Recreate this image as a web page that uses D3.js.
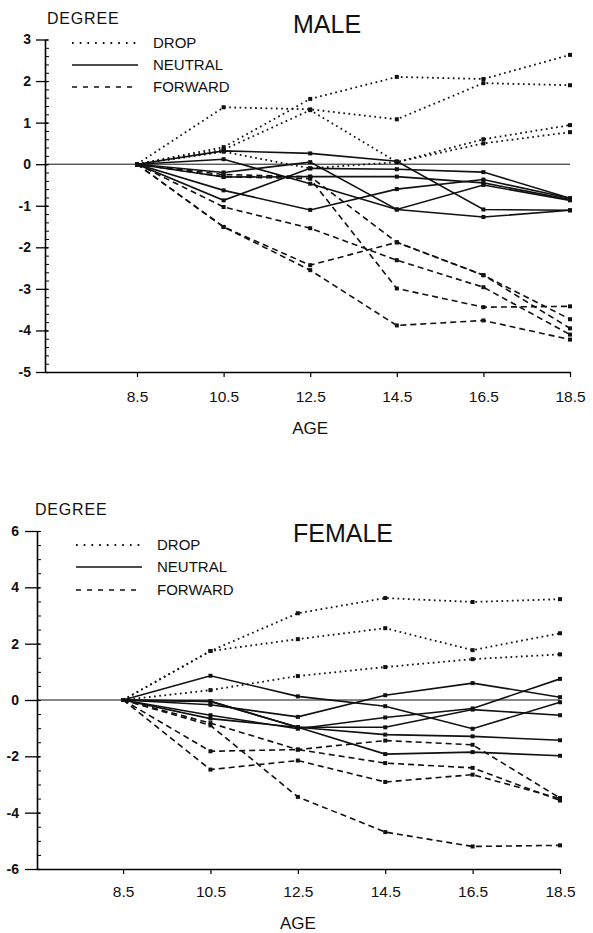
<!DOCTYPE html>
<html>
<head>
<meta charset="utf-8">
<script src="https://cdn.jsdelivr.net/npm/d3@7"></script>
<style>
  body { margin: 0; background: #fff; }
  text { font-family: "Liberation Sans", Arial, sans-serif; fill: #111; }
</style>
</head>
<body>
<script>
// ages on the x axis
const ages = [8.5, 10.5, 12.5, 14.5, 16.5, 18.5];
const legendLabels = ["DROP", "NEUTRAL", "FORWARD"];

const maleYTicks = [3, 2, 1, 0, -1, -2, -3, -4, -5];
const femaleYTicks = [6, 4, 2, 0, -2, -4, -6];

// male, one array per subject
const maleDrop = [
	[0, 1.37, 1.32, 1.08, 1.95, 1.90],
	[0, 0.41, 1.57, 2.10, 2.05, 2.63],
	[0, 0.35, 1.30, 0.05, 0.60, 0.94],
	[0, 0.30, -0.10, 0.05, 0.50, 0.77]
];
const maleNeutral = [
	[0, 0.32, 0.26, 0.07, -1.09, -1.11],
	[0, 0.12, -0.47, -1.09, -1.27, -1.11],
	[0, -0.87, -0.10, -0.12, -0.19, -0.82],
	[0, -0.63, -1.10, -0.60, -0.37, -0.82],
	[0, -0.31, -0.30, -0.30, -0.45, -0.85],
	[0, -0.20, 0.05, -1.09, -0.50, -0.87]
];
const maleForward = [
	[0, -0.25, -0.30, -1.88, -2.67, -3.73],
	[0, -0.30, -0.35, -2.99, -3.44, -3.42],
	[0, -1.03, -1.54, -2.31, -2.96, -4.10],
	[0, -1.51, -2.43, -1.88, -2.67, -3.95],
	[0, -1.51, -2.55, -3.88, -3.76, -4.22]
];

// female
const femaleDrop = [
	[0, 1.74, 3.08, 3.62, 3.48, 3.58],
	[0, 1.74, 2.16, 2.55, 1.77, 2.37],
	[0, 0.35, 0.85, 1.17, 1.45, 1.62]
];
const femaleNeutral = [
	[0, 0.86, 0.13, -0.22, -1.02, -0.08],
	[0, -0.17, -0.60, 0.17, 0.60, 0.10],
	[0, -0.54, -1.02, -0.62, -0.30, 0.75],
	[0, -0.05, -0.97, -0.97, -0.34, -0.54],
	[0, -0.66, -0.97, -1.23, -1.29, -1.43],
	[0, -0.05, -0.97, -1.92, -1.85, -1.98]
];
const femaleForward = [
	[0, -0.82, -1.76, -1.44, -1.59, -3.48],
	[0, -1.82, -1.76, -2.24, -2.41, -3.57],
	[0, -2.47, -2.15, -2.91, -2.65, -3.50],
	[0, -0.90, -3.44, -4.69, -5.20, -5.16]
];

const styles = {
	drop: { dash: "1.7,3.5", width: 1.8, legDash: "1.7,6" },
	neutral: { dash: null, width: 1.6, legDash: null },
	forward: { dash: "6,4", width: 1.6, legDash: "5,6" }
};

const svg = d3.select("body").append("svg")
	.attr("width", 593)
	.attr("height", 933);

const panel = o => {
	const g = svg.append("g");

	const x = d3.scaleLinear()
		.domain([o.xStart, 18.5])
		.range([o.axisX, o.xEnd]);

	const y = d3.scaleLinear()
		.domain([o.yTicks[o.yTicks.length - 1], o.yTicks[0]])
		.range([o.axisY, o.yTop]);

	// minor ticks inside the axis
	const yMinor = d3.axisRight(y)
		.tickValues(d3.range(y.domain()[0], y.domain()[1] + 1e-6, o.minorStep))
		.tickSize(4)
		.tickFormat("");
	g.append("g")
		.attr("transform", `translate(${o.axisX},0)`)
		.call(yMinor)
		.call(g => g.select(".domain").remove())
		.call(g => g.selectAll("line").attr("stroke-width", 1));

	const yAxis = d3.axisLeft(y)
		.tickValues(o.yTicks)
		.tickSize(o.tickLen)
		.tickSizeOuter(0)
		.tickPadding(o.labelPad)
		.tickFormat(d => String(d));
	g.append("g")
		.attr("transform", `translate(${o.axisX},0)`)
		.call(yAxis)
		.call(g => g.select(".domain").attr("stroke-width", 1.6))
		.call(g => g.selectAll(".tick line").attr("x2", 3).attr("x1", -o.tickLen).attr("stroke-width", 1.3))
		.call(g => g.selectAll("text")
			.attr("font-size", 14)
			.attr("font-weight", "bold")
			.style("font-family", "'Liberation Sans', Arial, sans-serif"));

	const xAxis = d3.axisBottom(x)
		.tickValues(ages)
		.tickSize(5)
		.tickSizeOuter(0)
		.tickPadding(o.xLabelPad)
		.tickFormat(d => String(d));
	g.append("g")
		.attr("transform", `translate(0,${o.axisY})`)
		.call(xAxis)
		.call(g => g.select(".domain").attr("stroke-width", 1.6))
		.call(g => g.selectAll(".tick line").attr("stroke-width", 1.2))
		.call(g => g.selectAll("text")
			.attr("font-size", 15.5)
			.style("font-family", "'Liberation Sans', Arial, sans-serif"));

	// zero reference line
	g.append("line")
		.attr("x1", o.axisX).attr("x2", x(18.5))
		.attr("y1", y(0)).attr("y2", y(0))
		.attr("stroke", "#111")
		.attr("stroke-width", 1);

	const line = d3.line()
		.x((d, i) => x(ages[i]))
		.y(d => y(d));

	const groups = [
		[o.drop, styles.drop],
		[o.neutral, styles.neutral],
		[o.forward, styles.forward]
	];

	groups.forEach(([series, st]) => {
		g.append("g").selectAll("path")
			.data(series)
			.join("path")
			.attr("fill", "none")
			.attr("stroke", "#111")
			.attr("stroke-width", st.width)
			.attr("stroke-dasharray", st.dash)
			.attr("d", line);

		g.append("g").selectAll("rect")
			.data(series.flatMap(s => s.map((v, i) => [ages[i], v])))
			.join("rect")
			.attr("x", d => x(d[0]) - 2)
			.attr("y", d => y(d[1]) - 2)
			.attr("width", 4)
			.attr("height", 4)
			.attr("fill", "#111");
	});

	// labels
	g.append("text")
		.attr("x", o.degX).attr("y", o.degY)
		.attr("font-size", 16)
		.attr("letter-spacing", 0.8)
		.text("DEGREE");

	g.append("text")
		.attr("x", 293).attr("y", o.titleY)
		.attr("font-size", 25)
		.text(o.title);

	g.append("text")
		.attr("x", x(12.5)).attr("y", o.ageY)
		.attr("text-anchor", "middle")
		.attr("font-size", 17)
		.text("AGE");

	// legend
	const leg = g.append("g");
	const legStyles = [styles.drop, styles.neutral, styles.forward];
	legendLabels.forEach((lab, i) => {
		const ly = o.legY[i];
		leg.append("line")
			.attr("x1", o.legX[0]).attr("x2", o.legX[1])
			.attr("y1", ly).attr("y2", ly)
			.attr("stroke", "#111")
			.attr("stroke-width", legStyles[i].width)
			.attr("stroke-dasharray", legStyles[i].legDash);
		leg.append("text")
			.attr("x", o.legX[1] + 15).attr("y", ly + 5)
			.attr("font-size", 15)
			.text(lab);
	});
};

panel({
	title: "MALE", titleY: 33,
	xStart: 6.375, axisX: 45, xEnd: 570,
	yTicks: maleYTicks, axisY: 372, yTop: 39.5, minorStep: 0.2,
	tickLen: 9, labelPad: 5, xLabelPad: 14,
	degX: 47, degY: 24, ageY: 434,
	legX: [72, 138], legY: [43, 65, 87],
	drop: maleDrop, neutral: maleNeutral, forward: maleForward
});

panel({
	title: "FEMALE", titleY: 542,
	xStart: 6.53, axisX: 37, xEnd: 560,
	yTicks: femaleYTicks, axisY: 869, yTop: 531, minorStep: 0.5,
	tickLen: 12, labelPad: 6, xLabelPad: 12,
	degX: 35, degY: 515, ageY: 929,
	legX: [76, 142], legY: [545, 567, 590],
	drop: femaleDrop, neutral: femaleNeutral, forward: femaleForward
});
</script>
</body>
</html>
